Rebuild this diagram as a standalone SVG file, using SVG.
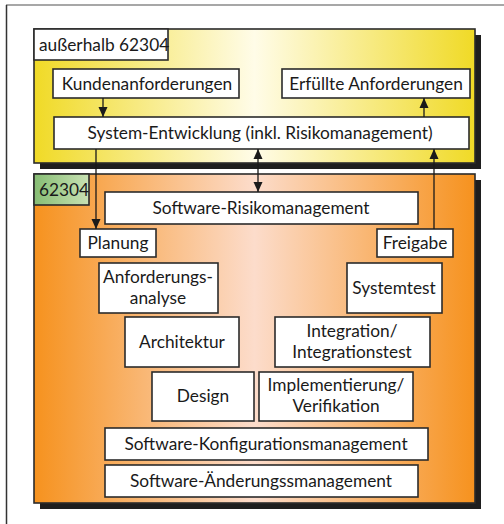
<svg xmlns="http://www.w3.org/2000/svg" width="504" height="524" viewBox="0 0 504 524">
  <style>
    .box { fill: #ffffff; stroke: #2b2b2b; stroke-width: 1.6; }
    .area { stroke: #2b2b2b; stroke-width: 1.6; }
    .shadow { fill: #1e1e1e; }
    .lbl { font-family: Lato, "Liberation Sans", sans-serif; font-size: 17.3px; fill: #1a1a1a; text-anchor: middle; }
    .lbl-l { font-family: Lato, "Liberation Sans", sans-serif; font-size: 17.3px; fill: #1a1a1a; }
    .conn { stroke: #1a1a1a; stroke-width: 1.3; fill: none; }
  </style>
  <defs>
    <linearGradient id="gYellow" x1="0" y1="0" x2="1" y2="0">
      <stop offset="0" stop-color="#f0da26"/>
      <stop offset="0.5" stop-color="#fffce8"/>
      <stop offset="1" stop-color="#f0da26"/>
    </linearGradient>
    <linearGradient id="gOrange" x1="0" y1="0" x2="1" y2="0">
      <stop offset="0" stop-color="#f6921e"/>
      <stop offset="0.5" stop-color="#fcdccb"/>
      <stop offset="1" stop-color="#f6921e"/>
    </linearGradient>
    <linearGradient id="gGreen" x1="0" y1="0" x2="1" y2="0">
      <stop offset="0" stop-color="#86bd74"/>
      <stop offset="1" stop-color="#c9e2b4"/>
    </linearGradient>
    <marker id="head" viewBox="0 0 10 10" refX="10" refY="5" markerWidth="10" markerHeight="10" markerUnits="userSpaceOnUse" orient="auto-start-reverse">
      <path d="M0,0.5 L10,5 L0,9.5 Z" fill="#1a1a1a"/>
    </marker>
  </defs>

  <!-- page frame -->
  <line x1="6" y1="5" x2="504" y2="5" stroke="#8a8a8a" stroke-width="1.5"/>
  <line x1="6.5" y1="5" x2="6.5" y2="524" stroke="#333333" stroke-width="1.5"/>

  <!-- outer area: outside 62304 -->
  <g id="area-outside">
    <rect class="shadow" x="40" y="35" width="441" height="134"/>
    <rect class="area" x="34" y="29" width="441" height="134" fill="url(#gYellow)"/>
    <rect class="box" x="34" y="29" width="134" height="31"/>
    <text class="lbl-l" x="39" y="51">außerhalb 62304</text>
  </g>

  <!-- inner area: 62304 -->
  <g id="area-62304">
    <rect class="shadow" x="40" y="180" width="441" height="329"/>
    <rect class="area" x="34" y="174" width="441" height="329" fill="url(#gOrange)"/>
    <rect class="area" x="34" y="174" width="55" height="31" fill="url(#gGreen)"/>
    <text class="lbl-l" x="39" y="196">62304</text>
  </g>

  <g id="kundenanforderungen">
    <rect class="box" x="53" y="69" width="186" height="29"/>
    <text class="lbl" x="147" y="90">Kundenanforderungen</text>
  </g>
  <g id="erfuellte-anforderungen">
    <rect class="box" x="282" y="69" width="188" height="29"/>
    <text class="lbl" x="376" y="90">Erfüllte Anforderungen</text>
  </g>
  <g id="system-entwicklung">
    <rect class="box" x="54" y="117" width="415" height="32"/>
    <text class="lbl" x="260" y="139">System-Entwicklung (inkl. Risikomanagement)</text>
  </g>

  <g id="risikomanagement">
    <rect class="box" x="105" y="192" width="313" height="32"/>
    <text class="lbl" x="261" y="214">Software-Risikomanagement</text>
  </g>
  <g id="planung">
    <rect class="box" x="80" y="229" width="76" height="28"/>
    <text class="lbl" x="118" y="249">Planung</text>
  </g>
  <g id="freigabe">
    <rect class="box" x="377" y="229" width="76" height="28"/>
    <text class="lbl" x="415" y="249">Freigabe</text>
  </g>
  <g id="anforderungsanalyse">
    <rect class="box" x="99" y="263" width="119" height="50"/>
    <text class="lbl" x="158" y="283">Anforderungs-</text>
    <text class="lbl" x="158" y="304">analyse</text>
  </g>
  <g id="systemtest">
    <rect class="box" x="347" y="263" width="95" height="50"/>
    <text class="lbl" x="394" y="294">Systemtest</text>
  </g>
  <g id="architektur">
    <rect class="box" x="125" y="317" width="114" height="50"/>
    <text class="lbl" x="182" y="348">Architektur</text>
  </g>
  <g id="integration">
    <rect class="box" x="275" y="317" width="155" height="50"/>
    <text class="lbl" x="352" y="337">Integration/</text>
    <text class="lbl" x="352" y="358">Integrationstest</text>
  </g>
  <g id="design">
    <rect class="box" x="152" y="372" width="102" height="49"/>
    <text class="lbl" x="203" y="402">Design</text>
  </g>
  <g id="implementierung">
    <rect class="box" x="259" y="372" width="154" height="49"/>
    <text class="lbl" x="336" y="391">Implementierung/</text>
    <text class="lbl" x="336" y="412">Verifikation</text>
  </g>
  <g id="konfigurationsmanagement">
    <rect class="box" x="105" y="428" width="323" height="32"/>
    <text class="lbl" x="266" y="450">Software-Konfigurationsmanagement</text>
  </g>
  <g id="aenderungsmanagement">
    <rect class="box" x="105" y="465" width="313" height="32"/>
    <text class="lbl" x="261" y="487">Software-Änderungssmanagement</text>
  </g>

  <!-- connectors -->
  <g id="connectors">
    <line class="conn" x1="103" y1="98" x2="103" y2="117" marker-end="url(#head)"/>
    <line class="conn" x1="424" y1="117" x2="424" y2="98" marker-end="url(#head)"/>
    <line class="conn" x1="96" y1="149" x2="96" y2="229" marker-end="url(#head)"/>
    <line class="conn" x1="434" y1="229" x2="434" y2="149" marker-end="url(#head)"/>
    <line class="conn" x1="258" y1="149" x2="258" y2="192" marker-start="url(#head)" marker-end="url(#head)"/>
  </g>
</svg>
